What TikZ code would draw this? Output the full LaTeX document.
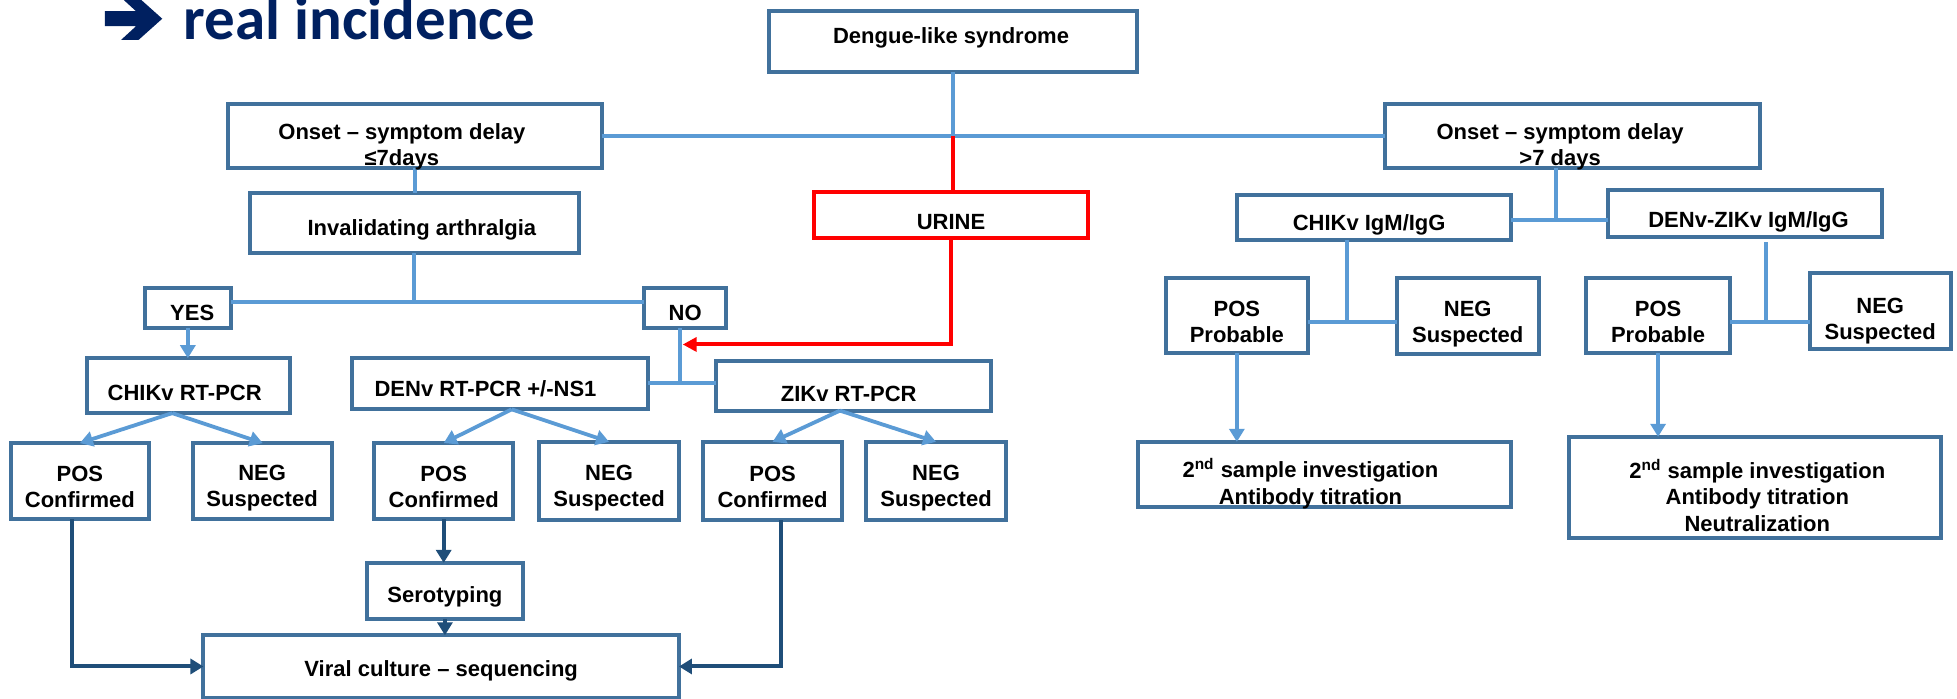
\documentclass[tikz,border=0pt]{standalone}
\usepackage{fontspec}
\setmainfont{Liberation Sans}
\newfontfamily\titlefont{Carlito}
\usetikzlibrary{arrows.meta,fit,calc}
\definecolor{boxc}{HTML}{41719C}
\definecolor{linec}{HTML}{5B9BD5}
\definecolor{darkc}{HTML}{1F4E79}
\definecolor{redc}{HTML}{FF0000}
\definecolor{titlec}{HTML}{002060}
\newcommand\mkbox[6][boxc]{%
  \coordinate (#2-a) at (#3,#4);
  \coordinate (#2-b) at (#5,#6);
  \node[boxst,draw=#1,fit=(#2-a)(#2-b)] (#2) {};}
\tikzset{
  boxst/.style={inner sep=0pt, outer sep=0pt, line width=2pt, fill=white},
  txt/.style={font=\fontsize{11}{13.1}\selectfont\bfseries, align=center, inner sep=0pt, text=black},
  conn/.style={draw=linec, line width=1.9pt},
  carrow/.style={conn, -{Triangle[width=7.5pt,length=6.5pt]}},
  darrow/.style={draw=darkc, line width=2pt, line join=miter, -{Triangle[width=7.5pt,length=6.5pt]}},
  rline/.style={draw=redc, line width=2pt, line join=miter},
  rarrow/.style={rline, -{Triangle[width=7pt,length=7pt]}},
}
\begin{document}
\begin{tikzpicture}[x=0.624pt,y=-0.624pt]
\useasboundingbox (0,0) rectangle (1568,560);
% title
\fill[titlec] (84,9) -- (109,9) -- (97,-2) -- (111,-2) -- (130,15) -- (111,32) -- (97,32) -- (109,21) -- (84,21) -- cycle;
\node[font=\titlefont\bfseries\fontsize{30.5pt}{32pt}\selectfont, text=titlec, anchor=base west, inner sep=0pt] (title) at (147,31.5) {real incidence};
% boxes
\mkbox{dengue}{616}{9}{911}{58}
\mkbox{onset1}{183}{83}{482}{135}
\mkbox{onset2}{1110}{83}{1410}{135}
\mkbox[redc]{urine}{652}{154}{872}{191}
\mkbox{inv}{200}{155}{464}{203}
\mkbox{yes}{116}{231}{185}{263}
\mkbox{no}{516}{231}{582}{263}
\mkbox{crt}{70}{287}{232}{331}
\mkbox{drt}{282}{287}{519}{328}
\mkbox{zrt}{574}{289}{794}{329}
\mkbox{pos1}{9}{355}{119}{416}
\mkbox{neg1}{155}{355}{266}{416}
\mkbox{pos2}{300}{355}{411}{416}
\mkbox{neg2}{432}{354}{544}{417}
\mkbox{pos3}{563}{354}{675}{417}
\mkbox{neg3}{694}{354}{806}{417}
\mkbox{sero}{294}{451}{419}{496}
\mkbox{viral}{163}{509}{544}{559}
\mkbox{cigm}{991}{156}{1211}{192}
\mkbox{dzigm}{1288}{152}{1508}{190}
\mkbox{pp1}{934}{223}{1048}{283}
\mkbox{ns1}{1119}{223}{1233}{284}
\mkbox{pp2}{1271}{223}{1386}{283}
\mkbox{ns2}{1450}{219}{1563}{280}
\mkbox{s1}{912}{354}{1211}{406}
\mkbox{s2}{1257}{350}{1555}{431}
% connectors
\coordinate (j1) at (dengue.south |- onset1.east);
\draw[conn] (dengue.south) -- (j1);
\draw[conn] (onset1.east) -- (onset2.west);
\draw[rline] (j1) -- (j1 |- urine.north);
\coordinate (redtip) at (547,276);
\draw[rarrow] (urine.south) |- (redtip);
\draw[conn] (onset1.south) -- (onset1.south |- inv.north);
\coordinate (jyn) at (inv.south |- 0,242);
\draw[conn] (inv.south) -- (jyn);
\draw[conn] (yes.east |- jyn) -- (no.west |- jyn);
\draw[carrow] (yes.south) -- (yes.south |- crt.north);
\coordinate (crtb) at (138,331);
\draw[carrow] (crtb) -- (pos1.north);
\draw[carrow] (crtb) -- (neg1.north);
\coordinate (nj) at (545,307);
\draw[conn] (nj |- no.south) -- (nj);
\draw[conn] (drt.east |- nj) -- (zrt.west |- nj);
\coordinate (drtb) at (410,328);
\draw[carrow] (drtb) -- (pos2.north);
\draw[carrow] (drtb) -- (neg2.north);
\coordinate (zrtb) at (673,329);
\draw[carrow] (zrtb) -- (pos3.north);
\draw[carrow] (zrtb) -- (neg3.north);
\draw[darrow] (pos2.south) -- (pos2.south |- sero.north);
\draw[darrow] (sero.south) -- (sero.south |- viral.north);
\coordinate (p1b) at (58,416);
\draw[darrow] (p1b) |- (viral.west);
\coordinate (p3b) at (626,417);
\draw[darrow] (p3b) |- (viral.east);
\coordinate (j2) at (1247,176);
\draw[conn] (j2 |- onset2.south) -- (j2);
\draw[conn] (cigm.east |- j2) -- (dzigm.west |- j2);
\coordinate (j3) at (1079,258);
\draw[conn] (j3 |- cigm.south) -- (j3);
\draw[conn] (pp1.east |- j3) -- (ns1.west |- j3);
\coordinate (j4) at (1415,258);
\draw[conn, shorten <=2.5pt] (j4 |- dzigm.south) -- (j4);
\draw[conn] (pp2.east |- j4) -- (ns2.west |- j4);
\draw[carrow] (pp1.south) -- (pp1.south |- s1.north);
\draw[carrow] (pp2.south) -- (pp2.south |- s2.north);
% texts
\node[txt,anchor=base] (t-dengue) at (762,35) {Dengue-like syndrome};
\node[txt] (t-onset1) at (322,117.5) {Onset – symptom delay\\≤7days};
\node[txt] (t-onset2) at (1250,117.5) {Onset – symptom delay\\>7 days};
\node[txt,anchor=base] (t-urine) at (762,184) {URINE};
\node[txt,anchor=base] (t-inv) at (338,189) {Invalidating arthralgia};
\node[txt,anchor=base] (t-yes) at (154,257) {YES};
\node[txt,anchor=base] (t-no) at (549,257) {NO};
\node[txt,anchor=base] (t-crt) at (148,321) {CHIKv RT-PCR};
\node[txt,anchor=base] (t-drt) at (389,318) {DENv RT-PCR +/-NS1};
\node[txt,anchor=base] (t-zrt) at (680,322) {ZIKv RT-PCR};
\node[txt] (t-pos1) at (64,390) {POS\\Confirmed};
\node[txt] (t-neg1) at (210,391) {NEG\\Suspected};
\node[txt] (t-pos2) at (355.5,390) {POS\\Confirmed};
\node[txt] (t-neg2) at (488,391) {NEG\\Suspected};
\node[txt] (t-pos3) at (619,390) {POS\\Confirmed};
\node[txt] (t-neg3) at (750,391) {NEG\\Suspected};
\node[txt,anchor=base] (t-sero) at (356.5,483) {Serotyping};
\node[txt,anchor=base] (t-viral) at (353.5,542) {Viral culture – sequencing};
\node[txt,anchor=base] (t-cigm) at (1097,185) {CHIKv IgM/IgG};
\node[txt,anchor=base] (t-dzigm) at (1401,182) {DENv-ZIKv IgM/IgG};
\node[txt] (t-pp1) at (991,258) {POS\\Probable};
\node[txt] (t-ns1) at (1176,259.5) {NEG\\Suspected};
\node[txt] (t-pp2) at (1328.5,258) {POS\\Probable};
\node[txt] (t-ns2) at (1506.5,257) {NEG\\Suspected};
\node[txt] (t-s1) at (1050,387.5) {2\textsuperscript{nd} sample investigation\\Antibody titration};
\node[txt] (t-s2) at (1408,397) {2\textsuperscript{nd} sample investigation\\Antibody titration\\Neutralization};
\end{tikzpicture}
\end{document}
